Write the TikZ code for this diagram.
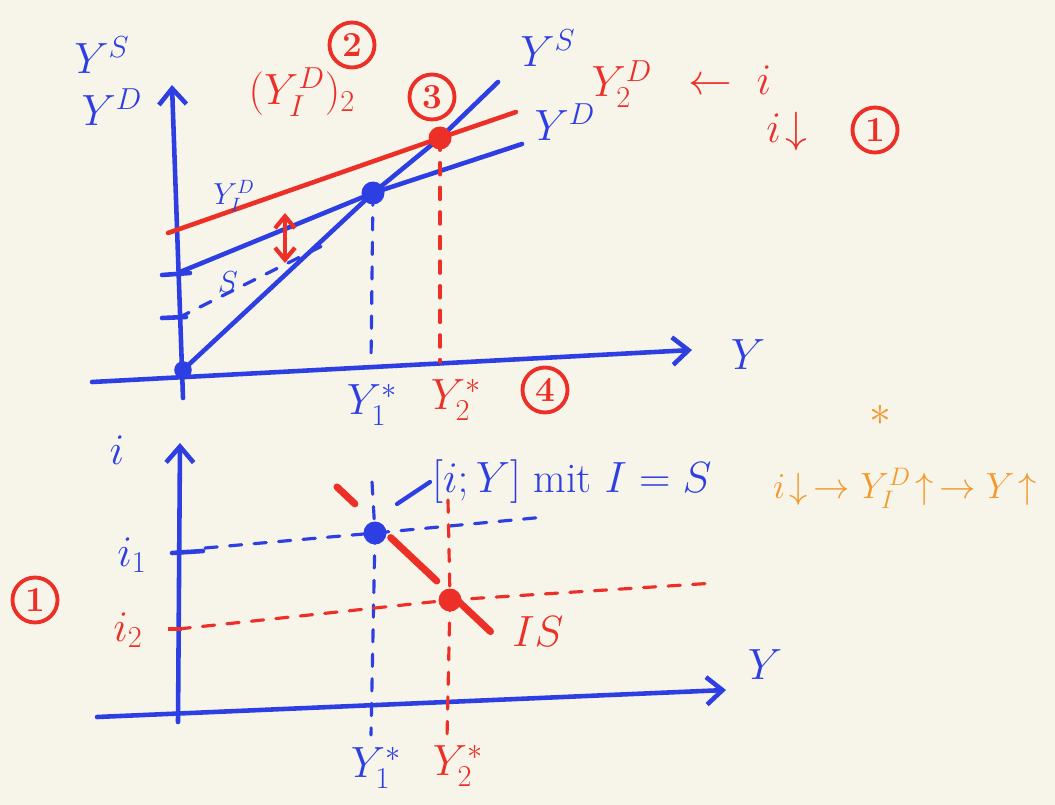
\documentclass[tikz,border=0pt]{standalone}
\usepackage{amsmath, amssymb}
\usepackage{tikz}
\usetikzlibrary{arrows.meta, positioning, calc}
\definecolor{Paper}{HTML}{F7F4EA}
\definecolor{Pen}{HTML}{2D3FE3}
\definecolor{Marker}{HTML}{EC3027}
\definecolor{Amber}{HTML}{F29A2E}

\begin{document}
\begin{tikzpicture}[
          x=0.2mm, y=-0.2mm,
          font=\fontsize{24}{26}\selectfont,
          axis/.style={draw=Pen, line width=2.6pt, line cap=round, -{Straight Barb[length=3.2mm, width=5.5mm, line width=2.6pt]}},
          curve/.style={line width=2.6pt, line cap=round},
          guide/.style={line width=1.8pt, line cap=round, dash pattern=on 7pt off 7pt},
          tick/.style={draw=Pen, line width=2.6pt, line cap=round},
          dot/.style={circle, fill, inner sep=0pt, minimum size=4.6mm},
          bluelbl/.style={text=Pen, inner sep=1pt},
          redlbl/.style={text=Marker, inner sep=1pt},
          tag/.style={draw=Marker, text=Marker, circle, line width=2.2pt, minimum size=9mm, inner sep=0pt, font=\fontsize{20}{22}\selectfont\bfseries},
          gap/.style={{Straight Barb[length=2.4mm, width=4mm]}-{Straight Barb[length=2.4mm, width=4mm]}, draw=Marker, line width=2.4pt}
        ]
          \fill[Paper] (0,0) rectangle (1055,805);
          \useasboundingbox (0,0) rectangle (1055,805);

          % upper panel
          \coordinate (yb1) at (183,398);
          \coordinate (yt1) at (172,85);
          \coordinate (xl1) at (92,382);
          \coordinate (xr1) at (692,350);
          \coordinate (o1) at (183,370);
          \coordinate (e1) at (373,193);
          \coordinate (e2) at (440,138);
          \coordinate (ys) at (498,82);
          \coordinate (d0) at (180,272);
          \coordinate (d1) at (522,144);
          \coordinate (r0) at (168,233);
          \coordinate (r1) at (516,112);
          \coordinate (c0) at (178,318);
          \coordinate (c1) at (330,242);
          \coordinate (f1) at (371,362);
          \coordinate (f2) at (440,362);
          \coordinate (g0) at (285,213);
          \coordinate (g1) at (285,263);

          \draw[axis] (yb1) -- (yt1);
          \draw[axis] (xl1) -- (xr1);
          \draw[tick] (162,275) -- (190,273);
          \draw[tick] (162,318) -- (186,317);
          \draw[curve, Pen] (o1) -- (e1) -- (e2) -- (ys);
          \draw[curve, Pen] (d0) -- (e1) -- (d1);
          \draw[curve, Marker] (r0) -- (e2) -- (r1);
          \draw[guide, Pen] (c0) -- (c1);
          \draw[guide, Pen] (e1) -- (f1);
          \draw[guide, Marker] (e2) -- (f2);
          \draw[gap] (g0) -- (g1);
          \node[dot, Pen] (p1) at (e1) {};
          \node[dot, Marker] (p2) at (e2) {};
          \fill[Pen] (o1) circle (5pt);

          \node[bluelbl] (ysax) at (102,55) {$Y^S$};
          \node[bluelbl] (ydax) at (112,107) {$Y^D$};
          \node[bluelbl] (xax1) at (748,355) {$Y$};
          \node[bluelbl] (ysl) at (548,48) {$Y^S$};
          \node[bluelbl] (ydl) at (565,122) {$Y^D$};
          \node[redlbl] (yd2) at (622,84) {$Y^D_2$};
          \node[redlbl] (cause) at (730,80) {$\leftarrow\; i$};
          \node[redlbl] (idown) at (787,132) {$i\!\downarrow$};
          \node[tag] (t1) at (875,130) {1};
          \node[tag] (t2) at (352,45) {2};
          \node[tag] (t3) at (432,97) {3};
          \node[redlbl] (yd12) at (302,92) {$(Y^D_I)_2$};
          \node[bluelbl, font=\fontsize{16}{18}\selectfont] (ydi) at (234,196) {$Y^D_I$};
          \node[bluelbl, font=\fontsize{16}{18}\selectfont] (sv) at (228,282) {$S$};
          \node[bluelbl] (ya1) at (372,405) {$Y^*_1$};
          \node[redlbl] (yb2) at (456,400) {$Y^*_2$};
          \node[tag] (t4) at (545,390) {4};

          % lower panel
          \coordinate (yb2) at (178,722);
          \coordinate (yt2) at (180,443);
          \coordinate (xl2) at (97,717);
          \coordinate (xr2) at (726,690);
          \coordinate (e3) at (375,533);
          \coordinate (e4) at (450,600);
          \coordinate (h0) at (205,548);
          \coordinate (h1) at (545,517);
          \coordinate (k0) at (178,629);
          \coordinate (k1) at (715,583);
          \coordinate (v0) at (372,482);
          \coordinate (v1) at (371,735);
          \coordinate (w0) at (448,500);
          \coordinate (w1) at (447,738);
          \coordinate (is0) at (337,487);
          \coordinate (is1) at (492,633);
          \coordinate (lead) at (397,504);

          \draw[axis] (yb2) -- (yt2);
          \draw[axis] (xl2) -- (xr2);
          \draw[tick] (172,553) -- (203,551);
          \draw[Marker, line width=1.8pt] (168,629) -- (182,629);
          \draw[guide, Pen] (h0) -- (e3) -- (h1);
          \draw[guide, Pen] (v0) -- (e3) -- (v1);
          \draw[guide, Marker] (k0) -- (e4) -- (k1);
          \draw[guide, Marker] (w0) -- (e4) -- (w1);
          \draw[Marker, line width=4pt, line cap=round, dash pattern=on 14pt off 28pt on 36pt off 16pt on 26pt] (is0) -- (is1);
          \node[dot, Pen] (p3) at (e3) {};
          \node[dot, Marker] (p4) at (e4) {};

          \node[bluelbl] (iax) at (117,450) {$i$};
          \node[bluelbl] (xax2) at (765,665) {$Y$};
          \node[bluelbl] (i1) at (132,555) {$i_1$};
          \node[redlbl] (i2) at (128,630) {$i_2$};
          \node[bluelbl, anchor=west] (note) at (430,482) {$[i;Y]$ mit $I=S$};
          \draw[Pen, line width=2.4pt, line cap=round] (lead) -- (note.west);
          \node[redlbl] (isl) at (538,632) {$IS$};
          \node[bluelbl] (ya2) at (376,768) {$Y^*_1$};
          \node[redlbl] (yb3) at (458,766) {$Y^*_2$};
          \node[tag] (t5) at (35,600) {1};

          \node[text=Amber] (star) at (880,415) {$*$};
          \node[text=Amber, font=\fontsize{20}{22}\selectfont] (chain) at (905,488) {$i\!\downarrow\,\rightarrow Y^D_I\!\uparrow\,\rightarrow Y\!\uparrow$};
        \end{tikzpicture}
\end{document}
